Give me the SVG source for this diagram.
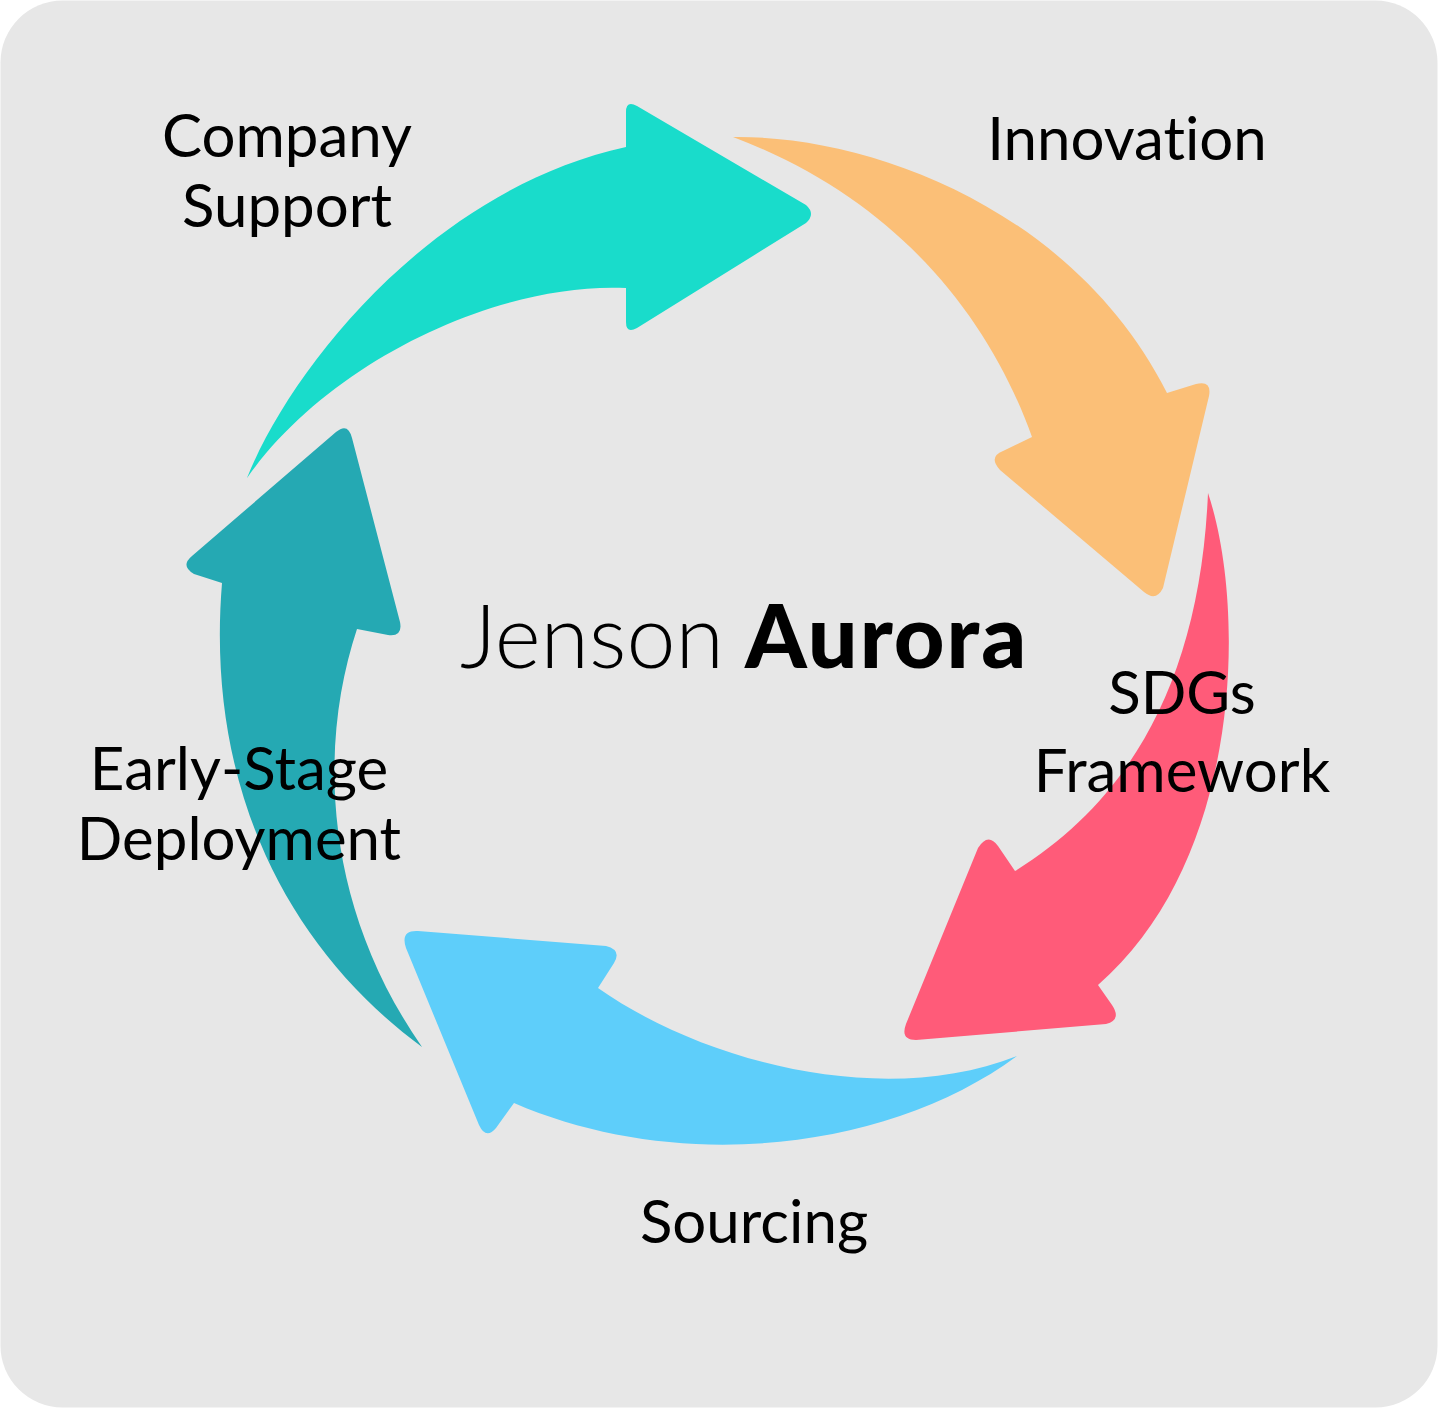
<svg xmlns="http://www.w3.org/2000/svg" width="1438" height="1408" viewBox="0 0 1438 1408">
<style>
text{font-variant-ligatures:none;font-feature-settings:"liga" 0,"clig" 0,"calt" 0,"dlig" 0}
.lbl{font-family:Lato,"Open Sans","Liberation Sans",sans-serif;font-size:60px;fill:#000;text-anchor:middle}
.t1{font-family:Lato,"Source Sans Pro","Open Sans",sans-serif;font-size:88px;font-weight:300;fill:#000}
.t2{font-family:Lato,"Open Sans",sans-serif;font-size:88px;font-weight:900;fill:#000;letter-spacing:2px}
</style>
<rect x="0" y="0" width="1438" height="1408" fill="#ffffff"/>
<rect x="0.5" y="0.5" width="1437" height="1407" rx="62" fill="#e7e7e7"/>
<g id="connectors">
<path id="arrow-company" fill="#19dccb" d="M247,478 C290,370 430,190 626,147 L626,112 Q626,100 637,106 L806,205 Q816,214 806,223 L637,328 Q626,334 626,322 L626,288 C500,282 330,360 247,478 Z"/>
<path id="arrow-innovation" fill="#fbbf77" d="M733,137 C870,135 1075,210 1167,393 L1196,384 Q1212,380 1209,396 L1163,588 Q1156,602 1144,592 L1000,470 Q988,457 1003,451 L1032,437 C990,320 900,200 733,137 Z"/>
<path id="arrow-sdgs" fill="#ff5b79" d="M1208,493 C1247,610 1242,860 1098,985 L1112,1005 Q1122,1020 1106,1024 L916,1040 Q900,1040 906,1024 L978,848 Q988,832 998,846 L1015,871 C1130,800 1200,680 1208,493 Z"/>
<path id="arrow-sourcing" fill="#5ecefa" d="M1017,1056 C890,1150 680,1175 514,1103 L496,1128 Q486,1140 479,1125 L406,948 Q400,930 418,931 L606,946 Q622,950 614,963 L598,988 C700,1060 880,1110 1017,1056 Z"/>
<path id="arrow-deployment" fill="#25a9b3" d="M422,1047 C290,950 205,790 222,583 L194,574 Q180,566 192,556 L336,432 Q348,422 352,438 L400,622 Q403,637 388,635 L357,629 C320,740 320,900 422,1047 Z"/>
</g>
<g id="node-company"><text class="lbl" x="287" y="157">Company</text><text class="lbl" x="287" y="227">Support</text></g>
<g id="node-innovation"><text class="lbl" x="1127" y="160">Innovation</text></g>
<g id="node-sdgs"><text class="lbl" x="1182" y="714">SDGs</text><text class="lbl" x="1182" y="792">Framework</text></g>
<g id="node-sourcing"><text class="lbl" x="754" y="1243">Sourcing</text></g>
<g id="node-deployment"><text class="lbl" x="239" y="790">Early-Stage</text><text class="lbl" x="239" y="860">Deployment</text></g>
<g id="node-center"><text class="t1" x="460" y="668">Jenson</text><text class="t2" x="745" y="668">Aurora</text></g>
</svg>
